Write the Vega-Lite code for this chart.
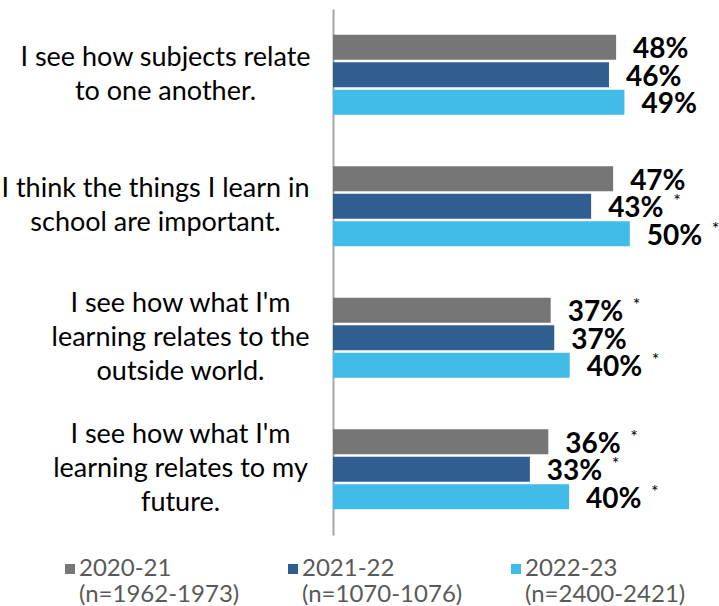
{
  "$schema": "https://vega.github.io/schema/vega-lite/v6.json",
  "width": 386,
  "height": 526,
  "autosize": {"type": "none"},
  "padding": {"left": 333, "top": 9, "right": 0, "bottom": 71},
  "background": "white",
  "config": {"view": {"stroke": null}, "font": "Lato"},
  "data": {
    "values": [
      {"statement": "I see how subjects relate\nto one another.", "year": "2020-21", "value": 47.6, "label": "48%", "star": ""},
      {"statement": "I see how subjects relate\nto one another.", "year": "2021-22", "value": 46.4, "label": "46%", "star": ""},
      {"statement": "I see how subjects relate\nto one another.", "year": "2022-23", "value": 49.0, "label": "49%", "star": ""},
      {"statement": "I think the things I learn in\nschool are important.", "year": "2020-21", "value": 47.1, "label": "47%", "star": ""},
      {"statement": "I think the things I learn in\nschool are important.", "year": "2021-22", "value": 43.4, "label": "43%", "star": "*"},
      {"statement": "I think the things I learn in\nschool are important.", "year": "2022-23", "value": 49.9, "label": "50%", "star": "*"},
      {"statement": "I see how what I'm\nlearning relates to the\noutside world.", "year": "2020-21", "value": 36.6, "label": "37%", "star": "*"},
      {"statement": "I see how what I'm\nlearning relates to the\noutside world.", "year": "2021-22", "value": 37.2, "label": "37%", "star": ""},
      {"statement": "I see how what I'm\nlearning relates to the\noutside world.", "year": "2022-23", "value": 39.8, "label": "40%", "star": "*"},
      {"statement": "I see how what I'm\nlearning relates to my\nfuture.", "year": "2020-21", "value": 36.2, "label": "36%", "star": "*"},
      {"statement": "I see how what I'm\nlearning relates to my\nfuture.", "year": "2021-22", "value": 33.1, "label": "33%", "star": "*"},
      {"statement": "I see how what I'm\nlearning relates to my\nfuture.", "year": "2022-23", "value": 39.7, "label": "40%", "star": "*"}
    ]
  },
  "encoding": {
    "y": {
      "field": "statement",
      "type": "nominal",
      "sort": null,
      "scale": {"paddingInner": 0.39, "paddingOuter": 0.195},
      "axis": {
        "title": null,
        "domainColor": "#A6A6A6",
        "domainWidth": 2,
        "ticks": false,
        "tickSize": 0,
        "labelAlign": "center",
        "labelBaseline": "middle",
        "labelFont": "Lato",
        "labelFontSize": 27,
        "labelColor": "#000000",
        "labelLineHeight": 34,
        "labelLimit": 0,
        "labelExpr": "split(datum.label, '\\n')",
        "labelOffset": {
          "condition": [
            {"test": "test(/subjects/, datum.value)", "value": -17},
            {"test": "test(/important/, datum.value)", "value": -17}
          ],
          "value": -34
        },
        "labelPadding": {
          "condition": [
            {"test": "test(/subjects/, datum.value)", "value": 168},
            {"test": "test(/important/, datum.value)", "value": 178},
            {"test": "test(/world/, datum.value)", "value": 153}
          ],
          "value": 153
        }
      }
    },
    "yOffset": {
      "field": "year",
      "type": "nominal",
      "sort": null,
      "scale": {"paddingInner": 0.09, "paddingOuter": 0}
    },
    "x": {
      "field": "value",
      "type": "quantitative",
      "scale": {"domain": [0, 64.9], "nice": false, "zero": true},
      "axis": null
    }
  },
  "layer": [
    {
      "mark": {"type": "bar"},
      "encoding": {
        "color": {
          "field": "year",
          "type": "nominal",
          "scale": {"domain": ["2020-21", "2021-22", "2022-23"], "range": ["#767676", "#2F5F91", "#41BBE8"]},
          "legend": {
            "title": null,
            "orient": "none",
            "legendX": -275,
            "legendY": 548,
            "direction": "horizontal",
            "columns": 3,
            "columnPadding": 41,
            "symbolType": "square",
            "symbolSize": 100,
            "symbolStrokeWidth": 0,
            "labelFont": "Lato",
            "labelFontSize": 24,
            "labelColor": "#595959",
            "labelLimit": 0,
            "labelOffset": -3,
            "labelBaseline": "middle",
            "labelExpr": "[datum.label, datum.label == '2020-21' ? '(n=1962-1973)' : datum.label == '2021-22' ? '(n=1070-1076)' : '(n=2400-2421)']"
          }
        }
      }
    },
    {
      "mark": {"type": "text", "align": "left", "baseline": "middle", "dx": 17, "dy": 3, "fontSize": 28, "fontWeight": "bold", "font": "Lato", "color": "#000000"},
      "encoding": {"text": {"field": "label"}}
    },
    {
      "mark": {"type": "text", "align": "left", "baseline": "middle", "dx": 82, "dy": -4, "fontSize": 18, "font": "Lato", "color": "#000000"},
      "encoding": {"text": {"field": "star"}}
    }
  ]
}
